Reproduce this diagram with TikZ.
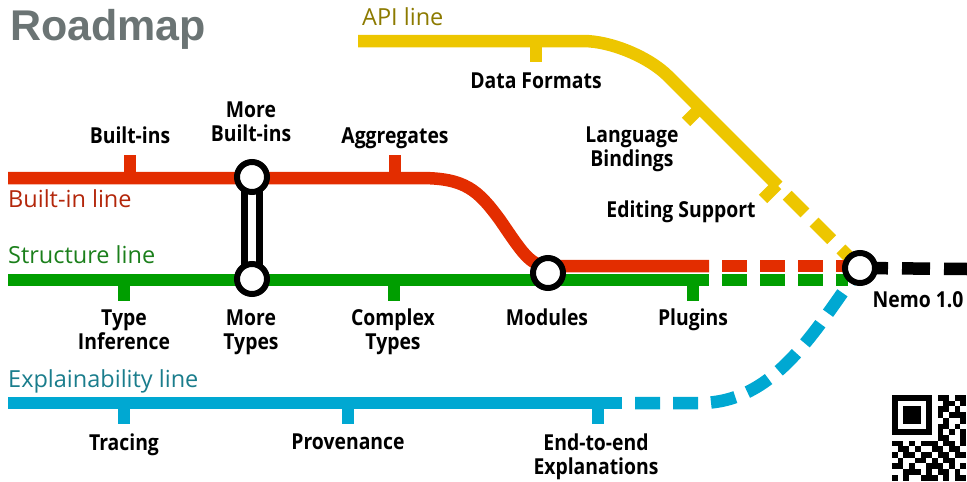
\documentclass[tikz,border=0pt]{standalone}
\usepackage{fontspec}
\setmainfont{Open Sans}
\newfontfamily\stopfont[FakeStretch=0.88]{Open Sans}
\newfontfamily\titlefont{Liberation Sans}
\usetikzlibrary{positioning}

\definecolor{builtinred}{HTML}{E32D00}
\definecolor{structgreen}{HTML}{009E00}
\definecolor{apiyellow}{HTML}{EDC600}
\definecolor{explblue}{HTML}{00A8D2}
\definecolor{builtintext}{HTML}{B3260A}
\definecolor{structtext}{HTML}{1B7F1B}
\definecolor{apitext}{HTML}{8C7A00}
\definecolor{expltext}{HTML}{1A7D8C}
\definecolor{roadgray}{HTML}{6B7474}

\tikzset{
  track/.style={line width=12.5pt},
  stub/.style={line width=12pt},
  later/.style={dash pattern=on 25pt off 13pt, dash phase=25pt},
  station/.style={circle, draw=black, fill=white, line width=6pt, minimum size=30pt, inner sep=0pt},
  stop/.style={font=\stopfont\bfseries\fontsize{22}{24}\selectfont, align=center, inner sep=0pt, anchor=base},
  linename/.style={font=\fontsize{23.5}{26}\selectfont, anchor=base west, inner sep=0pt},
}

\begin{document}
\begin{tikzpicture}[x=1pt, y=-1pt]
    \useasboundingbox (0,0) rectangle (967,482);

    % Track points
    \coordinate (apistart) at (358,41);
    \coordinate (apibend) at (633,41);
    \coordinate (apisolid) at (778,186);
    \coordinate (bistart) at (8,178);
    \coordinate (bisolid) at (709,266);
    \coordinate (bidash) at (722,266);
    \coordinate (ststart) at (8,280);
    \coordinate (stsolid) at (709,280);
    \coordinate (stdash) at (722,280);
    \coordinate (exstart) at (8,403);
    \coordinate (exsolid) at (622,403);
    \coordinate (morebi) at (252,177);
    \coordinate (moretp) at (252,279);
    \coordinate (modpt) at (548,273);
    \coordinate (nemopt) at (860,268);
    \coordinate (blackend) at (967,269);

    % API line
    \draw[track, apiyellow, rounded corners=50pt] (apistart) -- (apibend) -- (apisolid);
    \draw[track, apiyellow, later] (apisolid) -- (nemopt);
    \draw[stub, apiyellow] (536,41) -- (536,62);
    \draw[stub, apiyellow] (700,108) -- (686,122);
    \draw[stub, apiyellow] (777,185) -- (763,199);

    % Explainability line
    \draw[track, explblue] (exstart) -- (exsolid);
    \draw[track, explblue, later] (exsolid) -- (700,403) .. controls (775,403) and (815,330) .. (nemopt);
    \foreach \x in {124,348,598}
        \draw[stub, explblue] (\x,403) -- (\x,424);

    % Structure line
    \draw[track, structgreen] (ststart) -- (stsolid);
    \draw[track, structgreen, dash pattern=on 25pt off 13pt] (stdash) -- (848,280);
    \foreach \x in {124,394,693}
        \draw[stub, structgreen] (\x,280) -- (\x,301);

    % Built-in line
    \draw[track, builtinred] (bistart) -- (420,178) .. controls (465,178) and (478,190) .. (500,220)
        .. controls (522,252) and (530,266) .. (548,266) -- (bisolid);
    \draw[track, builtinred, dash pattern=on 25pt off 13pt] (bidash) -- (848,266);
    \foreach \x in {130,395}
        \draw[stub, builtinred] (\x,178) -- (\x,155);

    % Towards Nemo 1.0
    \draw[track, black, dash pattern=on 28pt off 14pt] (nemopt) -- (blackend);

    % Interchange
    \draw[line width=22pt] (morebi) -- (moretp);
    \draw[line width=8.5pt, white] (morebi) -- (moretp);

    % Stations
    \node[station] (stmorebi) at (morebi) {};
    \node[station] (stmoretp) at (moretp) {};
    \node[station] (stmodules) at (modpt) {};
    \node[station] (stnemo) at (nemopt) {};

    % Stop labels (base = last line)
    \node[stop] (builtins) at (130,143) {Built-ins};
    \node[stop] (morebuiltins) at (251,141) {More\\Built-ins};
    \node[stop] (aggregates) at (395,143) {Aggregates};
    \node[stop] (dataformats) at (536,88) {Data Formats};
    \node[stop] (bindings) at (632,166) {Language\\Bindings};
    \node[stop] (editing) at (681,217) {Editing Support};
    \node[stop] (typeinf) at (124,349) {Type\\Inference};
    \node[stop] (moretypes) at (251,349) {More\\Types};
    \node[stop] (complex) at (393,349) {Complex\\Types};
    \node[stop] (modules) at (547,325) {Modules};
    \node[stop] (plugins) at (693,325) {Plugins};
    \node[stop] (nemo) at (918,307) {Nemo 1.0};
    \node[stop] (tracing) at (124,450) {Tracing};
    \node[stop] (provenance) at (348,449) {Provenance};
    \node[stop] (endtoend) at (596,474) {End-to-end\\Explanations};

    % Line names
    \node[linename, apitext] (apiname) at (362,25) {API line};
    \node[linename, builtintext] (biname) at (8,207) {Built-in line};
    \node[linename, structtext] (stname) at (8,263) {Structure line};
    \node[linename, expltext] (exname) at (8,387) {Explainability line};

    \node[anchor=base west, inner sep=0pt, roadgray, font=\titlefont\bfseries\fontsize{43}{46}\selectfont] (title) at (10,40) {Roadmap};

    % QR code
    \begin{scope}
        \clip (0,0) rectangle (967,482);
        \foreach \bits [count=\row from 0] in {
            {1,1,1,1,1,1,1,0,1,1,0,1,1},
            {1,0,0,0,0,0,1,0,0,1,1,0,1},
            {1,0,1,1,1,0,1,0,1,1,0,1,0},
            {1,0,1,1,1,0,1,0,1,0,1,1,1},
            {1,0,1,1,1,0,1,0,0,1,0,0,1},
            {1,0,0,0,0,0,1,0,1,1,0,1,0},
            {1,1,1,1,1,1,1,0,1,0,1,0,1},
            {0,0,0,0,0,0,0,0,1,1,0,0,1},
            {1,1,0,1,0,1,1,1,0,1,1,0,1},
            {0,1,1,0,1,0,0,1,1,0,1,1,0},
            {1,0,1,1,0,1,1,0,1,1,0,1,1},
            {0,1,0,0,1,1,0,1,0,1,1,0,0},
            {1,1,0,1,0,0,1,1,1,0,1,0,1},
            {0,0,1,1,1,0,1,0,1,1,0,1,0},
            {1,0,1,0,0,1,1,1,0,1,0,1,1}} {
            \foreach \b [count=\col from 0] in \bits {
                \ifnum\b=1 \fill (892+\col*5.7, 395+\row*5.7) rectangle ++(5.75,5.75); \fi
            }
        }
    \end{scope}
\end{tikzpicture}
\end{document}
